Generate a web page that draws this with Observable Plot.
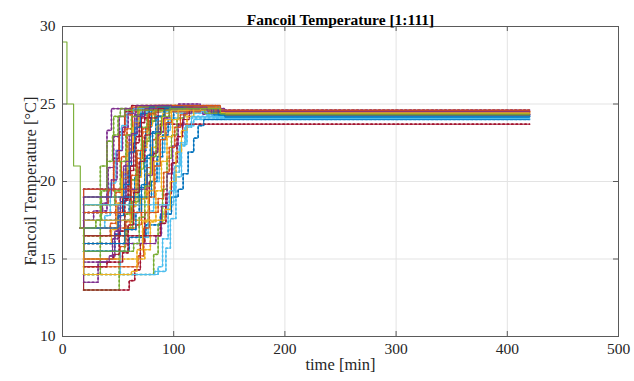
<!DOCTYPE html>
<html>
<head>
<meta charset="utf-8">
<script src="https://cdn.jsdelivr.net/npm/d3@7"></script>
<script src="https://cdn.jsdelivr.net/npm/@observablehq/plot@0.6"></script>
<style>
  html, body { margin: 0; padding: 0; background: #fff; }
  #wrap { position: relative; width: 634px; height: 381px; }
  #ylab {
    position: absolute; left: 31px; top: 181px;
    transform: translate(-50%, -50%) rotate(-90deg);
    white-space: nowrap;
    font-family: 'Liberation Serif', 'Times New Roman', serif;
    font-size: 16.5px; color: #262626; line-height: 1;
  }
</style>
</head>
<body>
<div id="wrap"><div id="chart"></div><div id="ylab"></div></div>
<script>
// ---- data ----
const title = "Fancoil Temperature [1:111]";
const xLabel = "time [min]";
const yLabel = "Fancoil Temperature [°C]";
const xTicks = [0, 100, 200, 300, 400, 500];
const yTicks = [10, 15, 20, 25, 30];
const matlabColors = ["#0072BD", "#D95319", "#EDB120", "#7E2F8E", "#77AC30", "#4DBEEE", "#A2142F"];
// shared opening of every series (time, °C) — all curves coincide here
const commonStart = [[0, 29], [4, 25], [10, 21], [16, 17]];
const endTime = 420;
// each series: step points [time, °C] after the common start
const seriesSteps = [
  [[19,15.5],[47,16.6],[52,18.7],[57,21.0],[62,23.0],[67,24.3],[73,24.8],[112,24.6],[134,24.3],[146,24.2]],
  [[19,16.5],[43,17.3],[48,19.3],[53,21.6],[58,23.4],[63,24.5],[70,24.9],[100,24.8],[128,24.5],[145,24.45]],
  [[19,19],[53,20.2],[58,22.0],[63,23.5],[68,24.5],[75,24.9],[106,24.8],[133,24.55],[146,24.5]],
  [[19,17.5],[28,18.1],[40,23.3],[44,24.7],[82,24.8],[120,24.5],[145,24.35]],
  [[19,14],[34,21.0],[40,22.6],[46,24.2],[52,24.7],[92,24.7],[128,24.4],[145,24.25]],
  [[19,17],[50,18.3],[55,20.4],[60,22.5],[65,23.9],[70,24.5],[102,24.4],[138,24.1],[146,24.05]],
  [[19,19.5],[46,21.5],[51,23.2],[56,24.5],[62,24.9],[96,24.8],[130,24.6],[146,24.55]],
  [[19,18],[60,18.7],[65,20.3],[70,22.0],[75,23.5],[80,24.5],[88,24.9],[116,24.8],[140,24.3],[146,24.25]],
  [[19,15],[52,15.8],[57,17.4],[62,19.4],[67,21.5],[72,23.2],[77,24.3],[84,24.8],[118,24.7],[140,24.4]],
  [[19,16],[56,16.9],[61,18.4],[66,20.3],[71,22.2],[76,23.6],[81,24.5],[90,24.9],[120,24.8],[140,24.5]],
  [[19,18],[36,18.6],[41,20.9],[46,22.9],[51,24.2],[56,24.7],[90,24.7],[126,24.35],[145,24.3]],
  [[19,13],[51,15.5],[56,17.9],[61,20.1],[66,22.0],[71,23.5],[76,24.4],[84,24.8],[116,24.7],[138,24.4],[146,24.35]],
  [[19,15.5],[52,14.0],[83,14.2],[93,15.7],[97,17.6],[102,20.3],[107,22.4],[112,23.6],[118,24.0]],
  [[19,13],[60,13.6],[65,14.3],[70,16.0],[74,18.0],[78,20.0],[82,21.8],[85,23.0],[88,23.7]],
  [[19,15.5],[60,16.4],[75,17.2],[88,17.9],[98,19.0],[104,19.5],[108.5,20.5],[113,21.9],[118,22.8],[122,23.6],[127,24.0]],
  [[19,18.5],[41,19.4],[46,21.3],[51,23.0],[56,24.3],[62,24.8],[94,24.8],[128,24.55],[146,24.55]],
  [[19,16],[44,16.9],[49,18.6],[54,20.6],[59,22.5],[64,23.8],[69,24.6],[100,24.7],[132,24.4],[146,24.35]],
  [[19,14.8],[40,15.0],[45,16.3],[50,18.5],[55,21.0],[60,23.0],[65,24.3],[72,24.8],[104,24.7],[134,24.4],[146,24.3]],
  [[19,14],[82,15.3],[86,17.3],[90,19.5],[94,21.5],[98,23.0],[103,24.1],[110,24.6],[128,24.6],[146,24.35]],
  [[19,17],[38,17.8],[43,19.9],[48,22.0],[53,23.6],[58,24.4],[64,24.7],[96,24.6],[130,24.2],[146,24.1]],
  [[19,15],[46,15.3],[51,16.8],[56,18.8],[61,21.0],[66,22.9],[71,24.1],[78,24.8],[110,24.8],[136,24.5]],
  [[19,17.5],[64,18.0],[69,19.6],[74,21.5],[79,23.1],[84,24.2],[91,24.8],[118,24.8],[140,24.3],[146,24.2]],
  [[19,17],[66,17.2],[71,18.9],[76,20.9],[81,22.7],[86,23.9],[92,24.6],[118,24.7],[140,24.4]],
  [[19,18.5],[70,18.9],[75,20.5],[80,22.2],[85,23.6],[90,24.4],[97,24.9],[122,24.8],[140,24.5]],
  [[19,19.5],[76,20.4],[81,21.9],[86,23.2],[91,24.1],[96,24.7],[104,25.0],[124,24.9],[140,24.6]],
  [[19,16.5],[58,17.0],[63,18.7],[68,20.8],[73,22.6],[78,23.9],[83,24.6],[112,24.7],[136,24.4],[146,24.3]],
  [[19,16],[72,16.4],[77,18.1],[82,20.0],[87,21.9],[92,23.3],[97,24.1],[104,24.5],[130,24.3],[146,24.1]],
  [[19,18],[54,18.9],[59,20.7],[64,22.5],[69,23.8],[74,24.6],[82,24.9],[114,24.8],[138,24.5]],
  [[19,19],[80,20.0],[85,21.6],[90,23.0],[95,24.0],[100,24.6],[108,24.9],[126,24.8],[142,24.3]],
  [[19,14.5],[68,15.2],[73,17.0],[78,19.0],[83,21.0],[88,22.7],[93,23.8],[98,24.5],[124,24.6],[142,24.4]],
  [[19,15],[74,15.6],[79,17.4],[84,19.4],[89,21.3],[94,22.9],[99,24.0],[104,24.6],[128,24.6],[146,24.4]],
  [[19,16],[84,16.5],[89,18.4],[94,20.5],[99,22.3],[104,23.6],[109,24.4],[116,24.8],[130,24.7],[146,24.3]],
  [[19,18.5],[47,19.4],[52,21.3],[57,23.0],[62,24.2],[68,24.8],[100,24.8],[132,24.5],[146,24.45]],
  [[19,14],[86,14.5],[90,16.3],[95,18.5],[100,20.6],[105,22.3],[110,23.5],[116,24.1],[146,24.05]],
  [[19,16.5],[88,17.3],[93,19.2],[98,21.2],[103,22.9],[108,24.0],[114,24.6],[124,24.8],[140,24.5],[146,24.45]],
  [[19,17],[50,17.8],[55,19.8],[60,21.9],[65,23.5],[70,24.4],[78,24.8],[108,24.7],[136,24.3],[146,24.2]],
  [[19,19.5],[62,20.4],[67,22.0],[72,23.4],[77,24.4],[84,24.9],[112,24.9],[138,24.6]],
  [[19,17.5],[92,18.2],[97,20.0],[102,21.9],[107,23.3],[112,24.2],[118,24.8],[128,24.8],[142,24.4]],
  [[19,13.5],[32,14.8],[42,15.2],[47,16.8],[52,19.0],[57,21.3],[62,23.1],[67,24.2],[74,24.7],[106,24.7],[134,24.4],[146,24.3]],
  [[19,17],[30,17.5],[35,19.4],[40,21.3],[45,23.0],[50,24.2],[56,24.6],[92,24.7],[128,24.4],[146,24.3]],
  [[19,18.5],[96,19.4],[101,21.0],[106,22.5],[111,23.6],[116,24.2],[146,24.15]],
  [[19,14.5],[40,14.8],[54,15.4],[59,17.2],[64,19.3],[69,21.3],[74,23.0],[79,24.1],[86,24.7],[118,24.7],[140,24.5]],
  [[19,16],[56,16.9],[66,18.0],[71,19.8],[76,21.7],[81,23.2],[86,24.2],[92,24.7],[120,24.7],[140,24.3],[146,24.15]],
  [[19,18],[86,18.9],[91,20.6],[96,22.2],[101,23.5],[106,24.3],[112,24.8],[126,24.9],[142,24.5]],
  [[19,14],[62,14.2],[67,15.6],[72,17.4],[77,19.4],[82,21.3],[87,22.9],[92,24.0],[98,24.6],[124,24.7],[142,24.45]],
  [[19,19],[44,20.1],[49,22.0],[54,23.5],[59,24.4],[66,24.9],[98,24.8],[130,24.55],[146,24.5]],
  [[19,15.5],[64,16.0],[69,17.7],[74,19.7],[79,21.6],[84,23.1],[89,24.2],[96,24.7],[122,24.7],[142,24.35]]
];

// ---- build tables ----
const lastCommon = commonStart[commonStart.length - 1];
const rows = [];
seriesSteps.forEach((steps, i) => {
  const pts = [lastCommon].concat(steps);
  const last = pts[pts.length - 1];
  pts.concat([[endTime, last[1]]]).forEach(([t, v]) => rows.push({series: i, t, v, c: matlabColors[i % 7]}));
});
// the shared opening is drawn once, in the colour of the last-drawn series
const startRows = commonStart.map(([t, v]) => ({t, v}));
const startColor = matlabColors[(seriesSteps.length - 1) % 7];
const markerRows = rows.filter(d => d.t > lastCommon[0]);

const frameW = 556, frameH = 310;
const axisGray = "#5a5a5a";

const chart = Plot.plot({
  width: 634,
  height: 381,
  marginLeft: 62,
  marginRight: 16,
  marginTop: 26,
  marginBottom: 45,
  style: {fontFamily: "'Liberation Serif', 'Times New Roman', serif", fontSize: "15px", color: "#262626", background: "#fff"},
  x: {domain: [0, 500], ticks: xTicks},
  y: {domain: [10, 30], ticks: yTicks},
  color: {type: "identity"},
  marks: [
    Plot.gridX(xTicks, {stroke: "#e3e3e3", strokeOpacity: 1}),
    Plot.gridY(yTicks, {stroke: "#e3e3e3", strokeOpacity: 1}),
    Plot.line(markerRows, {x: "t", y: "v", z: "series", stroke: "c", curve: "step-after", strokeWidth: 1.7, strokeDasharray: "1.2,3.2"}),
    Plot.line(rows, {x: "t", y: "v", z: "series", stroke: "c", curve: "step-after", strokeWidth: 1}),
    Plot.line(startRows, {x: "t", y: "v", stroke: startColor, curve: "step-after", strokeWidth: 1.1}),
    Plot.frame({stroke: axisGray, strokeWidth: 1}),
    Plot.ruleX(xTicks, {stroke: axisGray, insetTop: frameH - 5}),
    Plot.ruleX(xTicks, {stroke: axisGray, insetBottom: frameH - 5}),
    Plot.ruleY(yTicks, {stroke: axisGray, insetRight: frameW - 5}),
    Plot.ruleY(yTicks, {stroke: axisGray, insetLeft: frameW - 5}),
    Plot.axisX(xTicks, {tickSize: 0, tickPadding: 6, label: null, fontSize: 15.5}),
    Plot.axisY(yTicks, {tickSize: 0, tickPadding: 7, label: null, fontSize: 15.5}),
    Plot.text([title], {frameAnchor: "top", dy: -13, fontWeight: "bold", fontSize: 15.5, fill: "#000"}),
    Plot.text([xLabel], {frameAnchor: "bottom", dy: 33, fontSize: 16.5, fill: "#262626"})
  ]
});
document.getElementById("chart").appendChild(chart);
document.getElementById("ylab").textContent = yLabel;
</script>
</body>
</html>
